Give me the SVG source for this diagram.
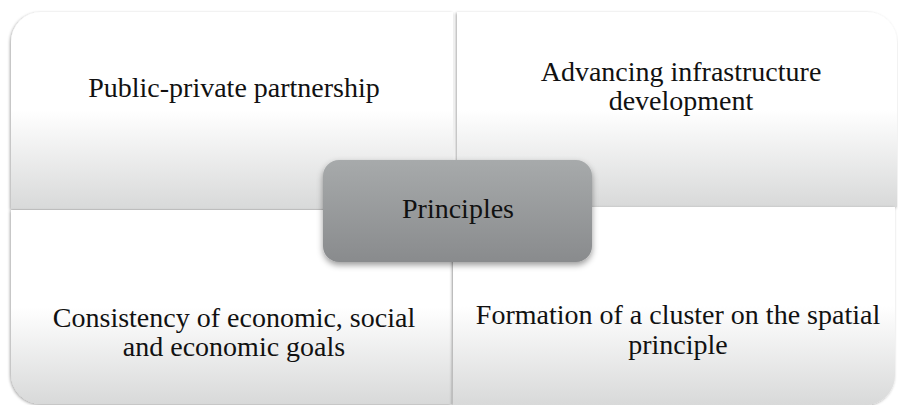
<svg xmlns="http://www.w3.org/2000/svg" width="898" height="405" viewBox="0 0 898 405">
  <defs>
    <linearGradient id="quadFill" x1="0" y1="0" x2="0" y2="1">
      <stop offset="0" stop-color="#ffffff"/>
      <stop offset="0.5" stop-color="#ffffff"/>
      <stop offset="1" stop-color="#d8d9d9"/>
    </linearGradient>
    <linearGradient id="hubFill" x1="0" y1="0" x2="0" y2="1">
      <stop offset="0" stop-color="#a7aaab"/>
      <stop offset="1" stop-color="#898b8d"/>
    </linearGradient>
    <filter id="shadow" x="-10%" y="-10%" width="120%" height="120%">
      <feDropShadow dx="-1" dy="1" stdDeviation="1.5" flood-color="#000" flood-opacity="0.35"/>
    </filter>
    <filter id="hubShadow" x="-10%" y="-10%" width="120%" height="130%">
      <feDropShadow dx="0" dy="3" stdDeviation="3" flood-color="#000" flood-opacity="0.4"/>
    </filter>
  </defs>
  <style>
    .quad { fill: url(#quadFill); filter: url(#shadow); }
    .label { font-size: 28px; fill: #111; text-anchor: middle; }
  </style>
  <rect width="898" height="405" fill="#ffffff"/>

  <!-- quadrant: top-left -->
  <g id="public-private" font-family="Liberation Serif, DejaVu Serif, serif">
    <path class="quad" d="M11,42 A30,30 0 0 1 41,12 H453 V209 H11 Z"/>
    <text class="label" x="234" y="97">Public-private partnership</text>
  </g>

  <!-- quadrant: top-right -->
  <g id="infrastructure" font-family="Liberation Serif, DejaVu Serif, serif">
    <path class="quad" d="M457,12 H867 A30,30 0 0 1 897,42 V207 H457 Z"/>
    <text class="label" x="681" y="81">Advancing infrastructure</text>
    <text class="label" x="681" y="110">development</text>
  </g>

  <!-- quadrant: bottom-left -->
  <g id="consistency" font-family="Liberation Serif, DejaVu Serif, serif">
    <path class="quad" d="M11,210 H452 V404 H41 A30,30 0 0 1 11,374 Z"/>
    <text class="label" x="234" y="327">Consistency of economic, social</text>
    <text class="label" x="234" y="356">and economic goals</text>
  </g>

  <!-- quadrant: bottom-right -->
  <g id="cluster" font-family="Liberation Serif, DejaVu Serif, serif">
    <path class="quad" d="M453,207 H895 V375 A30,30 0 0 1 865,405 H453 Z"/>
    <text class="label" x="678" y="324">Formation of a cluster on the spatial</text>
    <text class="label" x="678" y="354">principle</text>
  </g>

  <!-- central hub -->
  <g id="principles" font-family="Liberation Serif, DejaVu Serif, serif">
    <rect x="323" y="160" width="269" height="102" rx="16" fill="url(#hubFill)" filter="url(#hubShadow)"/>
    <text class="label" x="458" y="218">Principles</text>
  </g>

  <g id="connectors"/>
</svg>
